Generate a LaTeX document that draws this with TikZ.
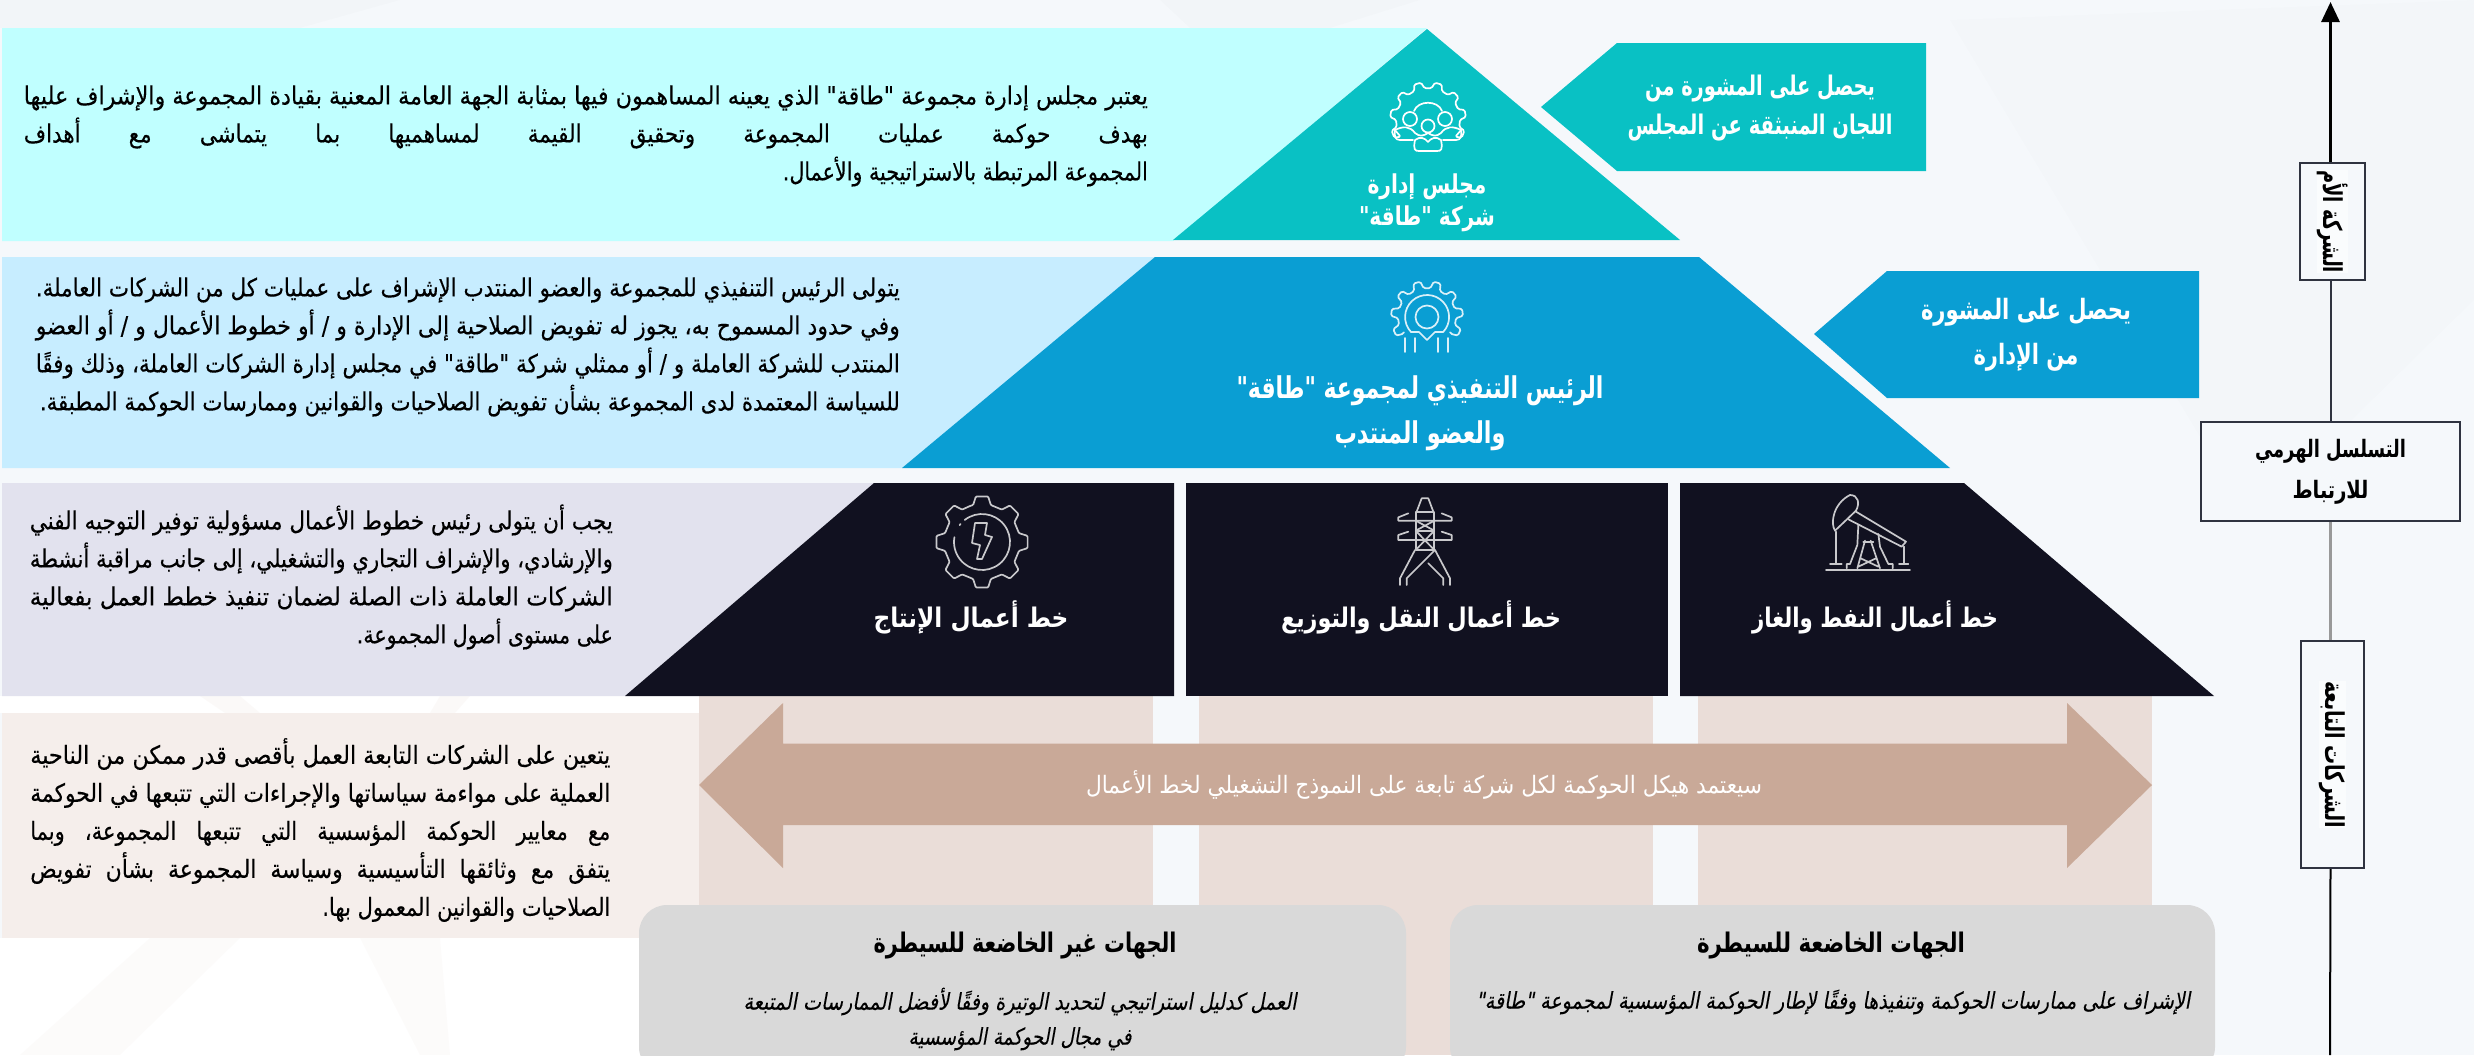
\documentclass[tikz,border=0pt]{standalone}
\usepackage{fontspec}
\usepackage{graphicx}
\usetikzlibrary{arrows.meta}
\TeXXeTstate=1
\newfontfamily\arfont[Script=Arabic]{DejaVu Sans}
\newfontfamily\arparafont[Script=Arabic,FakeBold=0.35]{DejaVu Sans}
\newfontfamily\aritfont[Script=Arabic,FakeSlant=0.22,FakeBold=0.25]{DejaVu Sans}
\newsavebox\lnbox
\newcommand\fitl[2]{\sbox\lnbox{#2}\pgfmathsetmacro\fitratio{#1/\the\wd\lnbox}\scalebox{\fitratio}[1]{\usebox\lnbox}}
\newcommand\fitw[3]{\sbox\lnbox{\spaceskip=#1 #3}\pgfmathsetmacro\fitratio{#2/\the\wd\lnbox}\scalebox{\fitratio}[1]{\usebox\lnbox}}
\definecolor{pagebg}{HTML}{F5F8FB}
\definecolor{cyanpale}{HTML}{C0FFFF}
\definecolor{tealmain}{HTML}{09C1C4}
\definecolor{bluepale}{HTML}{C7EDFF}
\definecolor{bluemain}{HTML}{0A9ED3}
\definecolor{lavpale}{HTML}{E2E2EE}
\definecolor{inkdark}{HTML}{111120}
\definecolor{pinkpale}{HTML}{F5EEEB}
\definecolor{pinkbg}{HTML}{EADDD8}
\definecolor{tanarrow}{HTML}{C9A998}
\definecolor{greybox}{HTML}{D9D9D9}
\definecolor{axisline}{HTML}{2F3340}
\definecolor{iconline}{HTML}{C9C9CC}
\newcommand\gearteeth[6]{% r-out, r-in, first angle, second angle, last angle, pitch
  \foreach \ga in {#3,#4,...,#5}{%
    -- ({\ga-0.30*#6}:#2) -- ({\ga-0.17*#6}:#1) -- ({\ga+0.17*#6}:#1) -- ({\ga+0.30*#6}:#2)
  }%
}
\tikzset{
  para/.style={anchor=east,align=right,inner sep=0pt,text=black,font=\arparafont\fontsize{25}{38}\selectfont},
  lab/.style={align=center,inner sep=0pt,text=white,font=\arfont\bfseries\fontsize{27}{40}\selectfont},
  greyhead/.style={align=center,inner sep=0pt,text=black,font=\arfont\bfseries\fontsize{27}{30}\selectfont},
  greyital/.style={align=center,inner sep=0pt,text=black,font=\aritfont\fontsize{23}{35}\selectfont},
  axisbox/.style={draw=axisline,line width=2pt,fill=pagebg,inner sep=0pt,text=black,font=\arfont\bfseries\fontsize{24}{41}\selectfont,align=center},
  axistext/.style={inner sep=0pt,rotate=-90,text=black,fill=white!55!pagebg,font=\arfont\bfseries\fontsize{26}{24}\selectfont},
  icon/.style={draw=#1,line width=1.7pt,line join=round,line cap=round},
  icon/.default=white
}
\begin{document}
\begin{tikzpicture}[x=1pt,y=-1pt]
\useasboundingbox (0,0) rectangle (2474,1055);
\fill[pagebg] (0,0) rectangle (2474,1055);
% faint background mark
\fill[white] (0,938) rectangle (700,1055);
\fill[white] (0,696) rectangle (700,713);
\fill[tanarrow,opacity=.06] (200,696) -- (240,696) -- (260,713) -- (225,713) -- cycle;
\fill[tanarrow,opacity=.06] (440,696) -- (470,696) -- (455,713) -- (430,713) -- cycle;
\fill[tanarrow,opacity=.04] (240,938) -- (150,938) -- (20,1055) -- (120,1055) -- cycle;
\fill[tanarrow,opacity=.04] (360,938) -- (440,938) -- (450,1055) -- (420,1055) -- cycle;
\fill[black,opacity=.008] (1950,20) -- (2474,0) -- (2474,300) -- (2250,520) -- cycle;
\fill[black,opacity=.012] (1160,0) -- (1420,0) -- (1330,28) -- (1190,28) -- cycle;
\fill[black,opacity=.012] (0,0) -- (400,0) -- (300,28) -- (0,28) -- cycle;
% background columns
\fill[pinkbg] (699,696) rectangle (1153,1055);
\fill[pinkbg] (1199,696) rectangle (1653,1055);
\fill[pinkbg] (1698,696) rectangle (2152,1055);
\fill[pinkbg] (1400,905) rectangle (1455,1055);
% side panels
\fill[cyanpale] (2,28) -- (1427,28) -- (1173,241) -- (2,241) -- cycle;
\fill[bluepale] (2,257) -- (1155,257) -- (902,468) -- (2,468) -- cycle;
\fill[lavpale] (2,483) -- (874,483) -- (625,696) -- (2,696) -- cycle;
\fill[pinkpale] (2,713) rectangle (699,938);
% pyramid
\fill[tealmain] (1427,29) -- (1680,240) -- (1173,240) -- cycle;
\fill[tealmain] (1541,107) -- (1617,43) -- (1926,43) -- (1926,171) -- (1617,171) -- cycle;
\fill[bluemain] (1155,257) -- (1699,257) -- (1950,468) -- (902,468) -- cycle;
\fill[bluemain] (1814,334) -- (1887,271) -- (2199,271) -- (2199,398) -- (1887,398) -- cycle;
\fill[inkdark] (874,483) -- (1174,483) -- (1174,696) -- (625,696) -- cycle;
\fill[inkdark] (1186,483) rectangle (1668,696);
\fill[inkdark] (1680,483) -- (1964,483) -- (2214,696) -- (1680,696) -- cycle;
% double arrow
\fill[tanarrow] (699,785) -- (783,703) -- (783,743.5) -- (2067,743.5) -- (2067,703) -- (2152,785) -- (2067,868) -- (2067,825) -- (783,825) -- (783,868) -- cycle;
% grey boxes
\fill[greybox,rounded corners=28pt] (639,905) rectangle (1406,1075);
\fill[greybox,rounded corners=28pt] (1450,905) rectangle (2215,1075);
% paragraph texts
\node[para] (ptop) at (1148,136) {\fitl{1124}{\beginR يعتبر مجلس إدارة مجموعة "طاقة" الذي يعينه المساهمون فيها بمثابة الجهة العامة المعنية بقيادة المجموعة والإشراف عليها\endR}\\
\fitw{56pt}{1124}{\beginR بهدف حوكمة عمليات المجموعة وتحقيق القيمة لمساهميها بما يتماشى مع أهداف\endR}\\
\fitl{365}{\beginR المجموعة المرتبطة بالاستراتيجية والأعمال.\endR}};
\node[para] (pceo) at (900,347) {\fitl{864}{\beginR يتولى الرئيس التنفيذي للمجموعة والعضو المنتدب الإشراف على عمليات كل من الشركات العاملة.\endR}\\
\fitl{864}{\beginR وفي حدود المسموح به، يجوز له تفويض الصلاحية إلى الإدارة و / أو خطوط الأعمال و / أو العضو\endR}\\
\fitl{864}{\beginR المنتدب للشركة العاملة و / أو ممثلي شركة "طاقة" في مجلس إدارة الشركات العاملة، وذلك وفقًا\endR}\\
\fitl{860}{\beginR للسياسة المعتمدة لدى المجموعة بشأن تفويض الصلاحيات والقوانين وممارسات الحوكمة المطبقة.\endR}};
\node[para] (pbiz) at (613,577) {\fitl{583}{\beginR يجب أن يتولى رئيس خطوط الأعمال مسؤولية توفير التوجيه الفني\endR}\\
\fitl{583}{\beginR والإرشادي، والإشراف التجاري والتشغيلي، إلى جانب مراقبة أنشطة\endR}\\
\fitl{583}{\beginR الشركات العاملة ذات الصلة لضمان تنفيذ خطط العمل بفعالية\endR}\\
\fitl{256}{\beginR على مستوى أصول المجموعة.\endR}};
\node[para] (psub) at (610.5,830) {\fitl{580}{\beginR يتعين على الشركات التابعة العمل بأقصى قدر ممكن من الناحية\endR}\\
\fitl{580}{\beginR العملية على مواءمة سياساتها والإجراءات التي تتبعها في الحوكمة\endR}\\
\fitw{24pt}{580}{\beginR مع معايير الحوكمة المؤسسية التي تتبعها المجموعة، وبما\endR}\\
\fitw{16pt}{580}{\beginR يتفق مع وثائقها التأسيسية وسياسة المجموعة بشأن تفويض\endR}\\
\fitl{288}{\beginR الصلاحيات والقوانين المعمول بها.\endR}};
% pyramid labels
\node[lab,font=\arfont\bfseries\fontsize{26}{32}\selectfont] (lboard) at (1427,203) {\fitl{119}{\beginR مجلس إدارة\endR}\\\fitl{136}{\beginR شركة "طاقة"\endR}};
\node[lab,font=\arfont\bfseries\fontsize{27}{39}\selectfont] (ladv) at (1760,108) {\fitl{230}{\beginR يحصل على المشورة من\endR}\\\fitl{265}{\beginR اللجان المنبثقة عن المجلس\endR}};
\node[lab,font=\arfont\bfseries\fontsize{28}{45}\selectfont] (lmgmt) at (2026,335) {\fitl{210}{\beginR يحصل على المشورة\endR}\\\fitl{105}{\beginR من الإدارة\endR}};
\node[lab,font=\arfont\bfseries\fontsize{30}{45}\selectfont] (lceo) at (1420,413) {\fitl{367}{\beginR الرئيس التنفيذي لمجموعة "طاقة"\endR}\\\fitl{171}{\beginR والعضو المنتدب\endR}};
\node[lab] (lprod) at (971,617) {\fitl{195}{\beginR خط أعمال الإنتاج\endR}};
\node[lab] (ltrans) at (1421,617) {\fitl{280}{\beginR خط أعمال النقل والتوزيع\endR}};
\node[lab] (loil) at (1875,617) {\fitl{246}{\beginR خط أعمال النفط والغاز\endR}};
\node[lab,font=\arfont\fontsize{24}{30}\selectfont] (larrow) at (1424,785) {\fitl{676}{\beginR سيعتمد هيكل الحوكمة لكل شركة تابعة على النموذج التشغيلي لخط الأعمال\endR}};
% grey boxes text
\node[greyhead] (hnon) at (1025,946) {\fitl{303}{\beginR الجهات غير الخاضعة للسيطرة\endR}};
\node[greyhead] (hctl) at (1831,946) {\fitl{268}{\beginR الجهات الخاضعة للسيطرة\endR}};
\node[greyital] (inon) at (1020,1019) {\fitl{553}{\beginR العمل كدليل استراتيجي لتحديد الوتيرة وفقًا لأفضل الممارسات المتبعة\endR}\\\fitl{223}{\beginR في مجال الحوكمة المؤسسية\endR}};
\node[greyital] (ictl) at (1833,1002) {\fitl{714}{\beginR الإشراف على ممارسات الحوكمة وتنفيذها وفقًا لإطار الحوكمة المؤسسية لمجموعة "طاقة"\endR}};
% axis
\coordinate (atop) at (2330.5,2);
\coordinate (abot) at (2330,1055);
\node[axisbox,minimum width=65pt,minimum height=117pt] (aparent) at (2332.5,221.5) {};
\node[axistext] (tparent) at (aparent.center) {\fitl{103}{\beginR الشركة الأم\endR}};
\node[axisbox,minimum width=259pt,minimum height=99pt] (ahier) at (2330.5,471.5) {\fitl{151}{\beginR التسلسل الهرمي\endR}\\\fitl{76}{\beginR للارتباط\endR}};
\node[axisbox,minimum width=63pt,minimum height=227pt] (asub) at (2332.5,754.5) {};
\node[axistext] (tsub) at (asub.center) {\fitl{147}{\beginR الشركات التابعة\endR}};
\draw[black,line width=3pt,-{Triangle[length=20pt,width=18pt]}] (aparent.north -| atop) -- (atop);
\draw[axisline,line width=2pt] (aparent.south -| ahier.north) -- (ahier.north);
\draw[gray!80,line width=2.5pt] (ahier.south) -- (ahier.south |- asub.north);
\draw[black,line width=2pt] (ahier.south |- asub.south) -- (abot);
% icon: board
\begin{scope}[shift={(1428,120)}]
\draw[icon,rounded corners=1.5pt] (-34,9) \gearteeth{38}{32}{-202}{-170}{22}{32} -- (34,9);
\end{scope}
\begin{scope}[shift={(1428,112)}]
\draw[icon] (-33,18) .. controls (-34,24) and (-33,28) .. (-28,28) -- (-15,28);
\draw[icon] (33,18) .. controls (34,24) and (33,28) .. (28,28) -- (15,28);
\draw[icon] (-33,18) .. controls (-25,14) and (-18,14) .. (-13,21) .. controls (-8,25) and (-5,24) .. (0,21) .. controls (5,24) and (8,25) .. (13,21) .. controls (18,14) and (25,14) .. (33,18);
\draw[icon] (-13,28) .. controls (-15,38) and (-13,39) .. (-9,39) -- (9,39) .. controls (13,39) and (15,38) .. (13,28) .. controls (8,24) and (3,26) .. (0,30) .. controls (-3,26) and (-8,24) .. (-13,28);
\draw[icon] (-18,7) circle (7);
\draw[icon] (17,7) circle (7);
\draw[icon] (0,14) circle (6.5);
\draw[icon] (-14,-1) .. controls (-10,-12) and (10,-12) .. (14,-1);
\end{scope}
% icon: ceo
\begin{scope}[shift={(1427,317)}]
\draw[icon=white!85!bluemain,rounded corners=1.5pt] (146:28) \gearteeth{36}{29}{-205.5}{-172.5}{25.5}{33} -- (34:28);
\draw[icon=white!85!bluemain] (-16,15) arc (137:403:22);
\draw[icon=white!85!bluemain] (0,0) circle (11.5);
\draw[icon=white!85!bluemain] (-16,15) -- (-8,15) -- (0,23) -- (8,15) -- (16,15);
\draw[icon=white!85!bluemain] (-12,21) -- (-12,35);
\draw[icon=white!85!bluemain] (11,21) -- (11,35);
\draw[icon=white!85!bluemain] (-22,21) -- (-22,35);
\draw[icon=white!85!bluemain] (21,21) -- (21,35);
\end{scope}
% icon: production gear
\begin{scope}[shift={(982,542)}]
\draw[icon=iconline,rounded corners=1pt] (-108:38) \gearteeth{46}{38}{-90}{-45}{225}{45} -- cycle;
\draw[icon=iconline] (-128:28) arc (-128:190:28);
\draw[icon=iconline] (-143:28) -- (-140:28);
\draw[icon=iconline] (-7,-19) -- (5,-19) -- (3,-7) -- (10,-5) -- (0,17) -- (-5,17) -- (-2,3) -- (-10,1) -- cycle;
\end{scope}
% icon: pylon
\begin{scope}[shift={(1370,490)},x=.3333pt,y=-.3333pt]
\draw[icon=iconline] (140,65) -- (155,25) -- (175,25) -- (190,65);
\draw[icon=iconline] (137,65) -- (137,180) -- (193,180) -- (193,65) -- cycle;
\draw[icon=iconline] (115,70) -- (85,82) -- (85,92) -- (245,92) -- (245,82) -- (215,70);
\draw[icon=iconline] (115,125) -- (85,135) -- (85,150) -- (245,150) -- (245,135) -- (215,125);
\draw[icon=iconline] (137,122) -- (193,122);
\draw[icon=iconline] (137,92) -- (193,122) (193,92) -- (137,122);
\draw[icon=iconline] (137,122) -- (193,180) (193,122) -- (137,180);
\draw[icon=iconline] (135,180) -- (90,265) -- (90,285);
\draw[icon=iconline] (195,180) -- (240,265) -- (240,285);
\draw[icon=iconline] (195,180) -- (110,265) -- (110,285);
\draw[icon=iconline] (175,220) -- (220,265) -- (220,285);
\end{scope}
% icon: pump jack
\begin{scope}[shift={(1800,490)},x=.3333pt,y=-.3333pt]
\draw[icon=iconline] (105,122) .. controls (90,100) and (100,40) .. (150,15) .. controls (175,15) and (180,40) .. (168,62) -- cycle;
\draw[icon=iconline] (145,88) -- (305,170) -- (318,155) -- (168,65);
\draw[icon=iconline] (108,125) -- (108,222) (90,222) -- (125,222);
\draw[icon=iconline] (312,170) -- (312,222) (297,222) -- (325,222);
\draw[icon=iconline] (78,240) -- (330,240);
\draw[icon=iconline] (175,105) -- (172,165) -- (150,222) -- (140,222) -- (140,235);
\draw[icon=iconline] (235,132) -- (240,170) -- (265,222) -- (278,222) -- (278,235);
\draw[icon=iconline] (190,155) -- (220,155);
\draw[icon=iconline] (195,152) -- (172,235) (212,152) -- (240,235) (182,205) -- (235,230) (228,205) -- (175,230);
\end{scope}
\end{tikzpicture}
\end{document}
